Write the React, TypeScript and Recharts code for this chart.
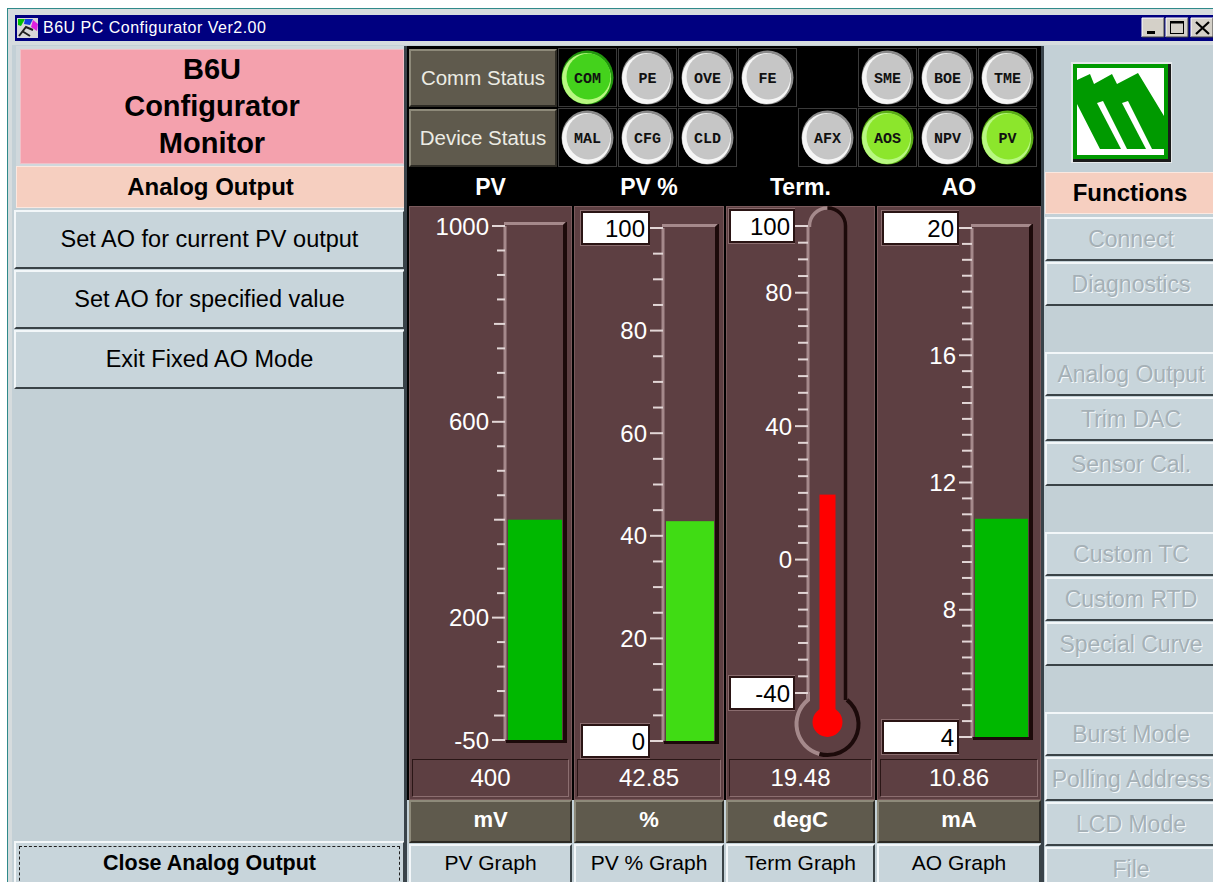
import React from 'react';
import { BarChart, Bar, XAxis, YAxis } from 'recharts';

const SANS = '"Liberation Sans", Arial, Helvetica, sans-serif';
const MONO = '"Liberation Mono", "Courier New", monospace';

const BG = '#c3d0d6';
const BUTTON = '#c8d5db';
const PANEL = '#5d3f42';
const OLIVE = '#5f5a4d';
const PEACH = '#f6cfc0';
const PINK = '#f4a1ad';
const LIGHT = '#a5898b';
const DARK = '#1c0a0a';

// gauge readings
const gaugeNames = ['PV', 'PV %', 'Term.', 'AO'];
const gaugeValues = [400, 42.85, 19.48, 10.86];
const gaugeReadouts = ['400', '42.85', '19.48', '10.86'];
const gaugeUnits = ['mV', '%', 'degC', 'mA'];
const gaugeMin = [-50, 0, -40, 4];
const gaugeMax = [1000, 100, 100, 20];
const gaugeStep = [50, 5, 5, 0.5];
const pvLabels = [1000, 600, 200, -50];
const pctLabels = [100, 80, 60, 40, 20, 0];
const termLabels = [100, 80, 40, 0, -40];
const aoLabels = [20, 16, 12, 8, 4];
const boxedLabels = [[], [100, 0], [100, -40], [20, 4]];
const graphButtons = ['PV Graph', 'PV % Graph', 'Term Graph', 'AO Graph'];

// status lamps
const commLeds = ['COM', 'PE', 'OVE', 'FE', '', 'SME', 'BOE', 'TME'];
const deviceLeds = ['MAL', 'CFG', 'CLD', '', 'AFX', 'AOS', 'NPV', 'PV'];
const litLeds = ['COM', 'AOS', 'PV'];

const leftButtons = ['Set AO for current PV output', 'Set AO for specified value', 'Exit Fixed AO Mode'];
const functionButtons = [
  'Connect', 'Diagnostics', '', 'Analog Output', 'Trim DAC', 'Sensor Cal.', '',
  'Custom TC', 'Custom RTD', 'Special Curve', '', 'Burst Mode', 'Polling Address', 'LCD Mode', 'File',
];

const gaugeLabels = [pvLabels, pctLabels, termLabels, aoLabels];

const columns = [
  { x: 409, w: 163 },
  { x: 574, w: 150 },
  { x: 726, w: 149 },
  { x: 877, w: 164 },
];
const charts = [
  { left: 410, width: 160, axis: 95, top: 26, bottom: 20, right: 4, box: 0, fill: '#00b800' },
  { left: 574, width: 148, axis: 89, top: 28, bottom: 19, right: 4, box: 7, fill: '#40dc14' },
  { left: 726, width: 147, axis: 82, top: 26, bottom: 67, right: 26, box: 3, fill: '#ff0000' },
  { left: 877, width: 163, axis: 95, top: 28, bottom: 23, right: 8, box: 5, fill: '#00b800' },
];

const tickMarks = (min: number, max: number, step: number) => {
  const out: number[] = [];
  for (let v = min; v <= max + 1e-9; v += step) out.push(Math.round(v * 100) / 100);
  return out;
};

const abs = (x: number, y: number, w: number, h: number, extra: React.CSSProperties = {}): React.CSSProperties => ({
  position: 'absolute', left: x, top: y, width: w, height: h, boxSizing: 'border-box', ...extra,
});

const raised = {
  borderTop: '2px solid #f3f7f9', borderLeft: '2px solid #f3f7f9',
  borderBottom: '2px solid #3a4347', borderRight: '2px solid #3a4347',
};
const center: React.CSSProperties = { display: 'flex', alignItems: 'center', justifyContent: 'center', whiteSpace: 'nowrap' };

function TubeFrame(p: any) {
  const { x, y, width, height } = p;
  const r = x + width;
  return (
    <g>
      <polygon points={`${x - 1},${y - 4} ${r},${y - 4} ${r - 3},${y - 1} ${x - 1},${y - 1}`} fill={LIGHT} />
      <polygon points={`${r},${y - 4} ${r + 1},${y - 4} ${r + 1},${y + height + 3} ${r - 3},${y + height + 3} ${r - 3},${y - 1}`} fill={DARK} />
      <rect x={x + 1} y={y + height} width={width - 2} height={3} fill={DARK} />
    </g>
  );
}

function Level(p: any) {
  const { x, y, width, height, fill } = p;
  return <rect x={x + 3} y={y} width={width - 7} height={height} fill={fill} />;
}

function ThermoFrame(p: any) {
  const { x, y, width, height } = p;
  const cx = x + width / 2;
  const rt = width / 2 - 1.5;
  const by = y + height + 31;
  const R = 31;
  const pt = (deg: number) => [cx + R * Math.cos((deg * Math.PI) / 180), by + R * Math.sin((deg * Math.PI) / 180)];
  const half = width / 2;
  const jy = by - Math.sqrt(R * R - half * half);
  const [bx, bby] = pt(105);
  return (
    <g fill="none">
      <path d={`M${x + 1.5},${y + 1} L${x + 1.5},${y} A${rt} ${rt} 0 0 1 ${cx} ${y - rt}`} stroke={LIGHT} strokeWidth={3.5} />
      <path d={`M${cx},${y - rt} A${rt} ${rt} 0 0 1 ${x + width - 1.5} ${y} L${x + width - 1.5} ${jy}`} stroke={DARK} strokeWidth={3.5} />
      <path d={`M${x},${y + height - 1} L${x},${jy} A${R} ${R} 0 0 0 ${bx} ${bby}`} stroke={LIGHT} strokeWidth={4} />
      <path d={`M${bx},${bby} A${R} ${R} 0 0 0 ${x + width} ${jy}`} stroke={DARK} strokeWidth={4} />
    </g>
  );
}

function Mercury(p: any) {
  const { x, y, width, height, fill } = p;
  const cx = x + width / 2;
  const by = y + height + 31;
  return (
    <g>
      <rect x={cx - 8} y={y} width={16} height={by - y} fill={fill} />
      <circle cx={cx} cy={by - 2} r={15} fill={fill} />
    </g>
  );
}

function Gauge({ i }: { i: number }) {
  const g = charts[i];
  const thermo = i === 2;
  const data = [{ name: gaugeNames[i], level: [gaugeMin[i], gaugeValues[i]] }];
  const tick = (p: any) => {
    const v = Number(p.payload.value);
    const labelled = gaugeLabels[i].includes(v);
    const boxed = boxedLabels[i].includes(v);
    const len = boxed ? 14 : labelled ? 13 : i === 0 ? (v % 200 === 0 ? 11 : 8) : 10;
    const x = p.x;
    const y = p.y;
    return (
      <g>
        <line x1={x - len} y1={y} x2={x} y2={y} stroke="#e2d6d6" strokeWidth={2} />
        {boxed && (
          <g>
            <rect x={g.box - 0.5} y={y - 17.5} width={x - 14 - g.box + 1} height={35} fill="none" stroke="#8a6c6e" strokeWidth={1} />
            <rect x={g.box + 1} y={y - 16} width={x - 15 - g.box} height={32} fill="#ffffff" stroke="#2a1414" strokeWidth={2} />
            <text x={x - 18} y={y} dy="0.36em" textAnchor="end" fill="#000" fontSize={24} fontFamily={SANS}>{v}</text>
          </g>
        )}
        {labelled && !boxed && (
          <text x={x - len - 3} y={y} dy="0.36em" textAnchor="end" fill="#ffffff" fontSize={24} fontFamily={SANS}>{v}</text>
        )}
      </g>
    );
  };
  return (
    <div style={{ position: 'absolute', left: g.left, top: 200 }}>
      <BarChart
        width={g.width}
        height={560}
        data={data}
        margin={{ top: g.top, right: g.right, bottom: g.bottom, left: 0 }}
        barCategoryGap={0}
      >
        <XAxis dataKey="name" hide />
        <YAxis
          type="number"
          domain={[gaugeMin[i], gaugeMax[i]]}
          ticks={tickMarks(gaugeMin[i], gaugeMax[i], gaugeStep[i])}
          interval={0}
          width={g.axis}
          tickSize={0}
          tickMargin={0}
          tickLine={false}
          axisLine={{ stroke: LIGHT, strokeWidth: 3 }}
          tick={tick}
        />
        <Bar
          dataKey="level"
          fill={g.fill}
          isAnimationActive={false}
          background={thermo ? (p: any) => <ThermoFrame {...p} /> : (p: any) => <TubeFrame {...p} />}
          shape={thermo ? (p: any) => <Mercury {...p} /> : (p: any) => <Level {...p} />}
        />
      </BarChart>
    </div>
  );
}

function Led({ name, cx, cy }: { name: string; cx: number; cy: number }) {
  const lit = litLeds.includes(name);
  const body = name === 'COM' ? '#44d21c' : lit ? '#8ce62c' : '#c6c6c6';
  const rim = name === 'COM' ? '#22960e' : lit ? '#5aac16' : '#8a8a8a';
  const glow = lit ? '#b8f880' : '#f6f6f6';
  return (
    <g>
      <ellipse cx={cx} cy={cy} rx={26} ry={27} fill={rim} />
      <ellipse cx={cx - 1} cy={cy + 1} rx={24.5} ry={25.5} fill={glow} />
      <ellipse cx={cx + 1} cy={cy - 1} rx={22} ry={23} fill={body} />
      <text x={cx} y={cy} dy="0.35em" textAnchor="middle" fontFamily={MONO} fontSize={15} fontWeight="bold" fill="#111">{name}</text>
    </g>
  );
}

function Overlay() {
  const rows = [
    { names: commLeds, y: 48 },
    { names: deviceLeds, y: 108 },
  ];
  return (
    <svg style={{ position: 'absolute', left: 0, top: 0 }} width={1213} height={882}>
      {rows.map((r) =>
        r.names.map((n, k) =>
          n ? (
            <g key={r.y + n}>
              <rect x={558.5 + 60 * k} y={r.y + 0.5} width={58} height={58} fill="#000" stroke="#3a3a3a" />
              <Led name={n} cx={587.5 + 60 * k} cy={r.y + 29.5} />
            </g>
          ) : null,
        ),
      )}
      {/* company logo */}
      <rect x={1071} y={62} width={101} height={101} fill="#e4e8ea" />
      <rect x={1073} y={64} width={98} height={98} fill="#1a1a1a" />
      <rect x={1073} y={64} width={95} height={95} fill="#009a00" />
      <rect x={1077} y={68} width={87} height={87} fill="#ffffff" />
      <polygon points="1077,80 1090,74 1094,84 1112,74 1117,84 1138,73 1164,116 1164,149 1100,149 1077,104" fill="#009a00" />
      <polygon points="1097,103 1103,101 1127,149 1121,149" fill="#ffffff" />
      <polygon points="1122,103 1128,101 1152,149 1146,149" fill="#ffffff" />
      {/* title bar icon */}
      <rect x={17} y={18} width={21} height={20} fill="#d8d8d8" />
      <polygon points="18,19 25,19 21,26 18,25" fill="#00c000" />
      <polygon points="25,19 33,19 30,25 24,24" fill="#1040e0" />
      <polygon points="33,20 38,24 37,31 31,27" fill="#e020e0" />
      <path d="M19,36 L26,27 L33,30 M22,31 L30,36" stroke="#202020" strokeWidth={2} fill="none" />
      {/* window buttons */}
      {[1142, 1166, 1191].map((bx) => (
        <g key={bx}>
          <rect x={bx} y={18} width={22} height={19} fill="#d4d0c8" />
          <path d={`M${bx},${37} L${bx},${18} L${bx + 22},${18}`} stroke="#ffffff" fill="none" />
          <path d={`M${bx},${37} L${bx + 22},${37} L${bx + 22},${18}`} stroke="#404040" fill="none" />
        </g>
      ))}
      <rect x={1147} y={31} width={8} height={3} fill="#000" />
      <rect x={1170.5} y={21.5} width={13} height={12} fill="none" stroke="#000" />
      <rect x={1170.5} y={21.5} width={13} height={2} fill="#000" />
      <path d="M1196,22 L1209,34 M1209,22 L1196,34" stroke="#000" strokeWidth={2.2} />
    </svg>
  );
}

export default function App() {
  return (
    <div style={{ position: 'absolute', left: 0, top: 0, width: 1213, height: 882, overflow: 'hidden', background: '#ffffff', fontFamily: SANS }}>
      {/* window frame */}
      <div style={abs(7, 8, 1206, 874, { background: '#d6dcde', borderTop: '1px solid #2f8a8a', borderLeft: '1px solid #2f8a8a' })} />
      <div style={abs(15, 15, 1198, 26, { background: '#000080' })} />
      <div style={{ ...abs(43, 15, 400, 26), color: '#fff', fontSize: 16, lineHeight: '26px', letterSpacing: 0.5 }}>B6U PC Configurator Ver2.00</div>
      <div style={abs(12, 45, 1201, 837, { background: BG })} />

      {/* left column */}
      <div style={abs(16, 46, 390, 120, { background: '#d0d8dc' })} />
      <div style={{ ...abs(20, 49, 384, 115, { background: PINK, border: '1px solid #f0c0c8' }), textAlign: 'center', fontWeight: 'bold', fontSize: 29, lineHeight: '37px', paddingTop: 1 }}>
        <div>B6U</div>
        <div>Configurator</div>
        <div>Monitor</div>
      </div>
      <div style={{ ...abs(16, 166, 389, 42, { background: PEACH, border: '1px solid #fbe8e0' }), ...center, fontWeight: 'bold', fontSize: 24 }}>Analog Output</div>
      {leftButtons.map((t, k) => (
        <div key={t} style={{ ...abs(14, 210 + 60 * k, 391, 59, { background: BUTTON, ...raised }), ...center, fontSize: 23.5 }}>{t}</div>
      ))}
      <div style={abs(14, 841, 391, 41, { background: BUTTON, ...raised, borderBottom: 'none' })} />
      <div style={{ ...abs(19, 846, 381, 40, { border: '1.5px dashed #1e1e1e' }), ...center, fontWeight: 'bold', fontSize: 21.5, paddingBottom: 5 }}>Close Analog Output</div>
      <div style={abs(404, 46, 3, 836, { background: '#39434a' })} />

      {/* centre: status lamps and gauges */}
      <div style={abs(407, 46, 635, 754, { background: '#000' })} />
      {['Comm Status', 'Device Status'].map((t, k) => (
        <div key={t} style={{ ...abs(409, 49 + 60 * k, 148, 58, { background: OLIVE, borderTop: '2px solid #8e8a7a', borderLeft: '2px solid #8e8a7a', borderBottom: '2px solid #2c2a24', borderRight: '2px solid #2c2a24' }), ...center, color: '#ecece4', fontSize: 20.5 }}>{t}</div>
      ))}
      {columns.map((c, k) => (
        <React.Fragment key={k}>
          <div style={{ ...abs(c.x, 169, c.w, 36), ...center, color: '#fff', fontWeight: 'bold', fontSize: 23 }}>{gaugeNames[k]}</div>
          <div style={abs(c.x, 206, c.w, 594, { background: PANEL, border: '1px solid #7a5a5c' })} />
          <div style={{ ...abs(c.x + 3, 759, c.w - 6, 38, { borderTop: '1px solid #2a1616', borderLeft: '1px solid #2a1616', borderBottom: '1px solid #8c6e70', borderRight: '1px solid #8c6e70' }), ...center, color: '#fff', fontSize: 24 }}>{gaugeReadouts[k]}</div>
          <div style={{ ...abs(c.x, 800, c.w, 43, { background: OLIVE, borderTop: '2px solid #8e8a7a', borderLeft: '2px solid #8e8a7a', borderBottom: '2px solid #2c2a24', borderRight: '2px solid #2c2a24' }), ...center, color: '#fff', fontWeight: 'bold', fontSize: 22, paddingBottom: 4 }}>{gaugeUnits[k]}</div>
          <div style={{ ...abs(c.x, 844, c.w, 40, { background: BUTTON, ...raised }), ...center, fontSize: 21, paddingBottom: 2 }}>{graphButtons[k]}</div>
        </React.Fragment>
      ))}
      {[0, 1, 2, 3].map((k) => (
        <Gauge key={k} i={k} />
      ))}
      <div style={abs(1041, 46, 3, 836, { background: '#39434a' })} />

      {/* right column */}
      <div style={{ ...abs(1045, 172, 170, 42, { background: PEACH, border: '1px solid #fbe8e0' }), ...center, fontWeight: 'bold', fontSize: 24 }}>Functions</div>
      {functionButtons.map((t, k) =>
        t ? (
          <div
            key={t}
            style={{ ...abs(1045, 217 + 45 * k, 172, 44, { background: BUTTON, ...raised }), ...center, fontSize: 23, color: '#a5b0b6', textShadow: '1px 1px 0 #f4f8fa', overflow: 'hidden' }}
          >
            {t}
          </div>
        ) : null,
      )}

      <Overlay />
    </div>
  );
}
